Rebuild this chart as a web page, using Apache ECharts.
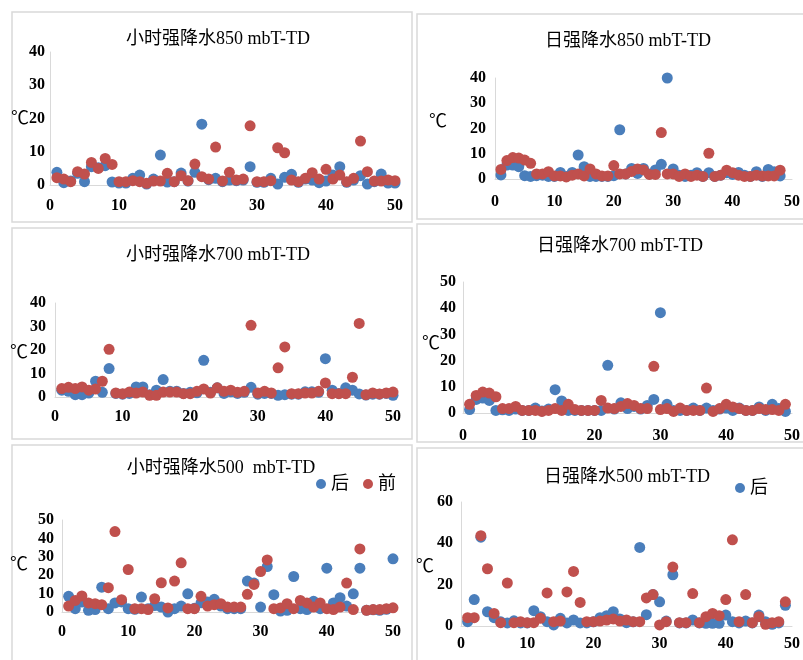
<!DOCTYPE html>
<html>
<head>
<meta charset="utf-8">
<script src="https://cdn.jsdelivr.net/npm/echarts@6/dist/echarts.min.js"></script>
<style>
  html, body { margin: 0; padding: 0; background: #fff; }
  #main { width: 803px; height: 660px; }
</style>
</head>
<body>
<div id="main"></div>
<script>
// 小时强降水850
var h850Hou = [3.8,0.7,1.2,3.5,1,5.5,5.2,5.8,0.9,0.6, 0.6,2,3,0.3,1.8,9,0.9,1,3.6,1.2,
  3.8,18.3,1.6,2,1,1.5,1.3,1.5,5.5,0.8, 0.8,2,0.3,2.3,3.2,0.8,1.8,1.5,0.7,1.2,
  3,5.5,0.8,1.5,2.8,0.3,1,3.3,0.6,0.6];
var h850Qian = [2.2,1.8,1,4,3.3,6.8,5,8,6.2,1, 1,1.3,1,0.5,1.2,1.2,3.5,1,2.8,1.3,
  6.3,2.5,1.8,11.4,1.2,3.8,1.5,1.8,17.8,1, 1,1.3,11.2,9.7,1.5,1,2,3.7,1.8,4.7,
  1.8,3,1,2,13.2,4,1.2,1.2,1.5,1.3];
// 日强降水850
var d850Hou = [1.6,5.5,5.5,4.9,1.3,1,1.3,1.5,1,1, 2.6,1,2.6,9.5,4.9,1,1,1,1,1.3,
  19.5,2,4.2,2.2,4.2,2,3.6,5.8,40,4, 1.5,1,1.5,2.5,1,2.5,1,1.5,2.5,1.8,
  2.6,1.5,1,2.9,1,3.8,2.9,1.2];
var d850Qian = [3.8,7.3,8.5,8.3,7.5,6.2,2,2,2.9,1.2, 1.2,0.8,1.5,2,1.2,4,2,1.2,1.2,5.3,
  2,2,3,4,3.6,1.8,1.8,18.4,2,2, 1,2,1,1.5,1,10.2,1,1.5,3.5,2.5,
  1.5,1,1,1.5,1.2,1.2,1.2,3.5];
// 小时强降水700
var h700Hou = [2.9,2.4,1,1,1.7,6.7,2,12.1,1.5,1.2, 1.5,4.3,4.3,1,2.9,7.4,2.5,2.5,1.5,2,
  1.8,15.6,2,3.9,1.5,2.2,1.5,2,4.1,1.2, 1.5,1.5,0.7,1,1.2,1.2,2.2,2.2,2,16.3,
  2.9,1.5,3.9,2.9,1.3,0.8,1.2,1.2,1.5,0.7];
var h700Qian = [3.6,4.1,3.6,4.3,2.9,3.4,6.7,20.3,1.7,1.4, 2.1,1.7,2.1,0.7,0.7,2.1,2.1,2.1,1.4,1.4,
  2.4,3.4,1.7,3.9,2.4,2.9,2,2.4,30.5,1.7, 2.4,1.7,12.4,21.3,1.4,1.4,1.7,1.7,2.4,6,
  1.4,1.4,1.4,8.4,31.3,1,1.7,1.3,1.7,2.1];
// 日强降水700
var d700Hou = [1.3,5.2,5.7,4.8,1,1.2,1,1.5,1,1, 1.9,0.8,1.5,8.9,4.6,1,1,1,1,1,
  1,18.2,1.5,3.9,1.7,2.5,1.5,2.9,5.2,38.3, 3.3,1,1,1,1.9,1,1.9,1,1.5,1.9,
  1,1.9,1,1,2.3,1,3.3,1.7,0.6];
var d700Qian = [3.3,6.7,8,7.6,6.2,1.7,1.7,2.5,1,1, 1,0.6,1,1.7,1,3.3,1.3,1,1,1,
  4.8,1.9,1.7,2.5,3.6,2.9,1.7,1.7,17.8,1.3, 1.7,0.6,1.9,1,1,1,9.5,0.6,1.7,3.3,
  2.3,1.7,1,1,1.7,1.3,1.3,1,3.3];
// 小时强降水500
var h500Hou = [8.5,1.8,5.4,0.9,1.3,13.5,1.8,4.9,5.5,1.8, 1.5,8.1,1.8,3.5,2.7,0,1.8,3.2,9.9,2,
  5,5.4,6.9,3.2,1.8,1.8,1.8,16.8,15.7,2.7, 24.7,9.4,0.5,0.9,19.3,1.8,1.3,5.8,1.8,23.8,
  4.9,7.8,3.2,9.9,23.8,1,1.2,0.9,1.5,28.9];
var h500Qian = [3.2,6.3,8.7,4.9,4.5,4,13.2,43.7,6.7,23.1, 1.8,1.8,1.3,7.2,15.9,2.2,16.8,26.7,1.8,1.8,
  8.5,3.2,4,4.5,2.7,2.7,2.7,9.6,15,22, 28.3,1.8,2.2,4.5,1.8,6.3,4.9,2.7,4.9,1.8,
  1.3,2.7,15.7,1.3,34.3,0.9,1.3,1.3,1.8,2.3];
// 日强降水500
var d500Hou = [2.1,12.8,43,6.9,4,2,1.5,2.5,1.5,1.5, 7.4,4.5,2.1,0.5,3.7,1.5,2.9,1.5,1.5,2,
  4,5,6.9,3.4,1.6,2,38,5.5,15.2,11.7, 2.4,24.8,1.5,1.5,2.9,1.5,1.3,1.3,1.3,5.3,
  2.1,1.5,2.4,1.5,5.3,2.1,0.8,1.5,10];
var d500Qian = [4,4,43.7,27.7,6.1,1.6,20.8,1.6,2.1,1.6, 1.6,3.7,16,2.1,2.4,16.5,26.4,11.4,2.1,2.1,
  2.4,2.9,3.4,2.4,2.9,2.1,2.1,13.6,15.2,0.5, 2.1,28.5,1.6,1.6,15.7,1.6,4.5,6.1,5,12.8,
  41.7,2.1,15.2,1.6,4.5,0.8,1.6,2.1,11.7];

var titles = ['小时强降水850 mbT-TD', '日强降水850 mbT-TD', '小时强降水700 mbT-TD',
  '日强降水700 mbT-TD', '小时强降水500  mbT-TD', '日强降水500 mbT-TD'];
var yMaxList = [40, 40, 40, 50, 50, 60];
var yStepList = [10, 10, 10, 10, 10, 20];

var BLUE = '#4a7ebb';
var RED = '#c0504d';
var SERIF = '"Liberation Serif", "Times New Roman", "Noto Sans CJK SC", serif';

// 每个小图的位置
var panels = [
  { grid: {left: 50, top: 52, width: 345, height: 133}, ym: 5, xm: 13, title: [218, 30], unit: [20, 119], hou: h850Hou, qian: h850Qian },
  { grid: {left: 495, top: 78, width: 303, height: 101}, ym: 9, xm: 15, title: [628, 32], unit: [438, 122], hou: d850Hou, qian: d850Qian },
  { grid: {left: 55, top: 303, width: 338, height: 94}, ym: 9, xm: 12, title: [218, 246], unit: [19, 353], hou: h700Hou, qian: h700Qian },
  { grid: {left: 463, top: 282, width: 335, height: 131}, ym: 7, xm: 15, title: [620, 237], unit: [431, 344], hou: d700Hou, qian: d700Qian },
  { grid: {left: 62, top: 520, width: 331, height: 92}, ym: 8, xm: 12, title: [221, 459], unit: [19, 565], hou: h500Hou, qian: h500Qian },
  { grid: {left: 461, top: 502, width: 339, height: 124}, ym: 8, xm: 10, title: [627, 468], unit: [425, 567], hou: d500Hou, qian: d500Qian }
];

var toPoints = function(arr) {
  return arr.map(function(v, i) { return [i + 1, v]; });
};

var grids = [], xAxes = [], yAxes = [], series = [], titleList = [];
var frameStyle = {fill: 'none', stroke: '#d9d9d9', lineWidth: 1.5};
var graphics = [
  // 小图边框
  { type: 'rect', shape: {x: 12, y: 12, width: 400, height: 210}, style: frameStyle },
  { type: 'rect', shape: {x: 417, y: 14, width: 400, height: 205}, style: frameStyle },
  { type: 'rect', shape: {x: 12, y: 228, width: 400, height: 211}, style: frameStyle },
  { type: 'rect', shape: {x: 417, y: 224, width: 400, height: 218}, style: frameStyle },
  { type: 'rect', shape: {x: 12, y: 445, width: 400, height: 240}, style: frameStyle },
  { type: 'rect', shape: {x: 417, y: 448, width: 400, height: 240}, style: frameStyle }
];

panels.forEach(function(p, k) {
  grids.push(p.grid);
  xAxes.push({
    type: 'value', gridIndex: k, min: 0, max: 50, interval: 10,
    axisLine: {show: true, lineStyle: {color: '#d9d9d9'}},
    axisTick: {show: false}, splitLine: {show: false},
    axisLabel: {margin: p.xm, color: '#000', fontSize: 16, fontWeight: 'bold', fontFamily: SERIF}
  });
  yAxes.push({
    type: 'value', gridIndex: k, min: 0, max: yMaxList[k], interval: yStepList[k],
    axisLine: {show: true, lineStyle: {color: '#d9d9d9'}},
    axisTick: {show: false}, splitLine: {show: false},
    axisLabel: {margin: p.ym, color: '#000', fontSize: 16, fontWeight: 'bold', fontFamily: SERIF}
  });
  series.push({
    name: '后', type: 'scatter', xAxisIndex: k, yAxisIndex: k,
    symbolSize: 11, itemStyle: {color: BLUE, opacity: 1},
    data: toPoints(p.hou)
  });
  series.push({
    name: '前', type: 'scatter', xAxisIndex: k, yAxisIndex: k,
    symbolSize: 11, itemStyle: {color: RED, opacity: 1},
    data: toPoints(p.qian)
  });
  titleList.push({
    text: titles[k], left: p.title[0], top: p.title[1], textAlign: 'center',
    padding: 0,
    textStyle: {fontSize: 18, fontWeight: 'normal', color: '#000', fontFamily: SERIF}
  });
  graphics.push({
    type: 'text', x: p.unit[0], y: p.unit[1],
    style: {text: '℃', fill: '#000', font: '18px ' + SERIF, textAlign: 'center', textVerticalAlign: 'middle'}
  });
});

var option = {
  animation: false,
  backgroundColor: '#fff',
  title: titleList,
  grid: grids,
  xAxis: xAxes,
  yAxis: yAxes,
  legend: [
    { data: ['后', '前'], left: 316, top: 475, icon: 'circle', itemWidth: 10, itemHeight: 10, itemGap: 14,
      textStyle: {fontSize: 18, color: '#000', fontFamily: SERIF}, padding: 0, selectedMode: false },
    { data: ['后'], left: 735, top: 479, icon: 'circle', itemWidth: 10, itemHeight: 10,
      textStyle: {fontSize: 18, color: '#000', fontFamily: SERIF}, padding: 0, selectedMode: false }
  ],
  graphic: graphics,
  series: series
};

var myChart = echarts.init(document.getElementById('main'));
myChart.setOption(option);
</script>
</body>
</html>
